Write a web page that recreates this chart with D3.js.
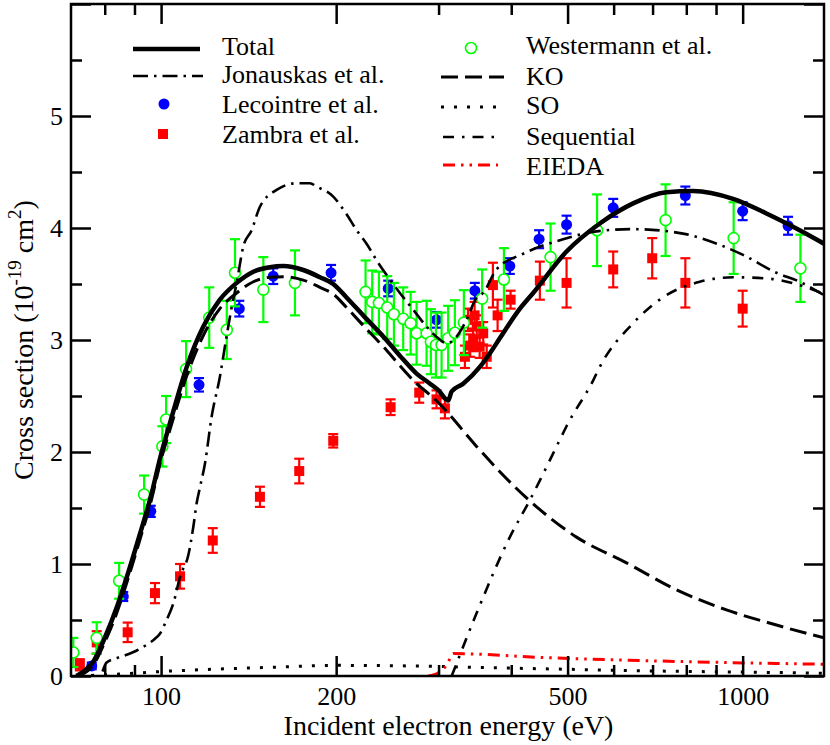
<!DOCTYPE html>
<html><head><meta charset="utf-8">
<script src="https://cdn.jsdelivr.net/npm/d3@7"></script>
<style>
html,body{margin:0;padding:0;background:#fff;}
svg text{font-family:"Liberation Serif","DejaVu Serif",serif;}
</style></head>
<body><svg id="c" width="830" height="745" font-family="Liberation Serif, DejaVu Serif, serif"></svg>
<script>
// ---------- data (energy eV, cross section 1e-19 cm^2) ----------
const totalCurve = [[71.5,0],[74,0.05],[76.5,0.13],[80,0.34],[84,0.62],[88,0.94],[92,1.27],[96,1.6],[100,1.98],[103.6,2.26],[110.7,2.76],[118.2,3.12],[126.2,3.36],[134.9,3.51],[144.1,3.61],[153.8,3.65],[162.2,3.66],[175.6,3.625],[187.6,3.56],[197.7,3.5],[208.4,3.38],[222.6,3.22],[244,3.0],[257.4,2.86],[275,2.7],[290,2.61],[300,2.55],[311.7,2.46],[315.9,2.54],[330.7,2.61],[353.3,2.76],[367.5,2.88],[382.3,3.015],[414,3.28],[436.3,3.42],[497.9,3.79],[568,4.04],[648.1,4.22],[739.6,4.32],[821.8,4.33],[962.7,4.26],[1098.7,4.13],[1253.4,3.98],[1380,3.86]];
const jonauskasCurve = [[79.3,0.04],[80.6,0.12],[84,0.16],[87.3,0.19],[91,0.23],[94.5,0.28],[97.5,0.33],[99.6,0.38],[102.2,0.5],[105,0.65],[108,0.9],[111.4,1.08],[113.6,1.33],[115.1,1.54],[116.6,1.68],[119,1.9],[122.2,2.32],[126.2,2.67],[129.3,3.0],[132,3.27],[134.9,3.51],[138.4,3.83],[143.1,3.98],[147.9,4.19],[158,4.34],[171.1,4.4],[180.3,4.4],[185.1,4.37],[197.7,4.28],[208,4.13],[216.9,3.98],[225.6,3.86],[234.8,3.71],[247.4,3.54],[257.4,3.42],[271.4,3.27],[286.1,3.12],[299.6,3.015],[309.7,2.97],[322.2,3.03],[335.2,3.18],[348,3.37],[357.9,3.42],[377.3,3.63],[419.5,3.77],[491.3,3.9],[560.7,3.97],[648,3.99],[789.6,3.95],[913,3.85],[1001.6,3.76],[1143,3.6],[1253.4,3.52],[1380,3.4]];
const koCurve = [[72,0],[76.5,0.1],[80,0.3],[84,0.57],[88,0.89],[92,1.22],[96,1.55],[100,1.93],[103.6,2.2],[110.7,2.68],[118.2,3.04],[126.2,3.28],[134.9,3.42],[144.1,3.52],[153.8,3.56],[162.2,3.565],[175.6,3.535],[187.6,3.47],[197.7,3.41],[208.4,3.29],[222.6,3.13],[244,2.91],[257.4,2.77],[275,2.61],[290,2.51],[300,2.44],[310,2.36],[348.7,2.05],[425,1.59],[518,1.24],[631.4,1.01],[769.6,0.77],[938,0.59],[1143.2,0.455],[1380,0.34]];
const soCurve = [[72,0],[80,0.01],[90,0.025],[100,0.04],[110,0.05],[130,0.065],[160,0.08],[200,0.095],[250,0.092],[300,0.085],[400,0.07],[500,0.06],[700,0.045],[1000,0.035],[1380,0.025]];
const sequentialCurve = [[316,0],[348.7,0.56],[397.8,1.24],[430.6,1.57],[485,2.11],[497.9,2.23],[553.4,2.64],[568,2.76],[648.1,3.15],[739.6,3.4],[843.9,3.52],[962.7,3.56],[1098.7,3.55],[1253.4,3.49],[1380,3.41]];
const eiedaCurve = [[288,0],[300,0.03],[310,0.1],[318,0.2],[454,0.165],[770,0.13],[1380,0.105]];

// points: [energy, value, error]
const lecointre = [[76,0.09,0.03],[86.1,0.71,0.04],[96,1.47,0.05],[116.2,2.6,0.06],[136.3,3.28,0.07],[155.9,3.57,0.07],[196,3.6,0.07],[245.8,3.46,0.07],[297.6,3.18,0.07],[346.3,3.44,0.07],[397.8,3.66,0.07],[446.7,3.9,0.08],[498,4.03,0.08],[599,4.18,0.08],[797,4.29,0.08],[1000,4.15,0.08],[1197,4.02,0.08]];
const zambra = [[72.5,0.1,0.05],[77.5,0.3,0.1],[87.6,0.39,0.087],[97.6,0.74,0.09],[107.8,0.89,0.11],[122.7,1.21,0.11],[147.9,1.6,0.09],[172.8,1.83,0.11],[197.7,2.1,0.06],[248.1,2.4,0.07],[277.9,2.53,0.09],[297.6,2.47,0.08],[307.6,2.39,0.09],[333,2.85,0.1],[337,3.18,0.1],[340,2.95,0.1],[344,3.0,0.1],[346,3.22,0.12],[349,3.12,0.1],[353,2.94,0.1],[358,3.06,0.1],[363,2.85,0.1],[372,3.49,0.2],[379,3.22,0.14],[399,3.36,0.08],[448,3.53,0.17],[498,3.51,0.22],[599,3.63,0.16],[699,3.73,0.18],[797,3.51,0.22],[1000,3.28,0.16]];
const westermann = [[70.65,0.21,0.13],[77.5,0.34,0.14],[84.7,0.85,0.16],[93.5,1.62,0.17],[100.5,2.05,0.18],[102,2.29,0.21],[110.4,2.74,0.25],[121,3.2,0.27],[129.7,3.09,0.26],[134,3.6,0.3],[149.9,3.45,0.29],[169.9,3.51,0.29],[224.7,3.43,0.28],[230.7,3.34,0.28],[236.9,3.33,0.28],[244.8,3.29,0.28],[251.4,3.23,0.28],[260.8,3.19,0.28],[268.6,3.15,0.28],[275,3.06,0.28],[286.1,3.06,0.29],[291,2.985,0.29],[296.9,2.955,0.29],[303.6,2.955,0.29],[311.6,3.015,0.29],[320,3.065,0.29],[331.6,3.155,0.29],[356.5,3.37,0.26],[388.6,3.54,0.28],[467.4,3.74,0.3],[562,3.98,0.32],[737,4.07,0.32],[965,3.91,0.32],[1257,3.64,0.3]];

const xMajor = [100,200,500,1000];
const xMinor = [80,90,300,400,600,700,800,900];
const yMajor = [0,1,2,3,4,5,6];
const yLabels = [0,1,2,3,4,5];
const yMinor = [0.5,1.5,2.5,3.5,4.5,5.5];

const legendLeft = ["Total","Jonauskas et al.","Lecointre et al.","Zambra et al."];
const legendRight = ["Westermann et al.","KO","SO","Sequential","EIEDA"];

// ---------- drawing ----------
const FONT = "Liberation Serif, DejaVu Serif, serif";
const svg = d3.select("#c");
const L=71,R=824,T=4,B=676;
const x = d3.scaleLog().domain([70,1380]).range([L,R]);
const y = d3.scaleLinear().domain([0,6]).range([B,T]);

svg.append("defs").append("clipPath").attr("id","clip")
  .append("rect").attr("x",L).attr("y",T).attr("width",R-L).attr("height",B-T);

const BLUE="#0000ff", RED="#ff0000", GREEN="#00ff00";
const styles = {
  total:{stroke:"#000",w:4.5,dash:null},
  jon:{stroke:"#000",w:2.6,dash:"15,6,2.5,6"},
  ko:{stroke:"#000",w:3,dash:"17,7"},
  so:{stroke:"#000",w:3,dash:"3,10"},
  seq:{stroke:"#000",w:2.6,dash:"11,8,2.5,8"},
  eieda:{stroke:RED,w:3,dash:"12,6,2.5,6,2.5,6"}
};

const g = svg.append("g").attr("clip-path","url(#clip)");

function errSet(data,color){
  const gg = g.append("g");
  gg.selectAll("line.v").data(data).enter().append("line")
    .attr("x1",d=>x(d[0])).attr("x2",d=>x(d[0]))
    .attr("y1",d=>y(d[1]-d[2])).attr("y2",d=>y(d[1]+d[2]))
    .attr("stroke",color).attr("stroke-width",2.2);
  [1,-1].forEach(s=>{
    gg.selectAll("line.c"+s).data(data).enter().append("line")
      .attr("x1",d=>x(d[0])-5).attr("x2",d=>x(d[0])+5)
      .attr("y1",d=>y(d[1]+s*d[2])).attr("y2",d=>y(d[1]+s*d[2]))
      .attr("stroke",color).attr("stroke-width",2.2);
  });
  return gg;
}
errSet(zambra,RED).selectAll("rect").data(zambra).enter().append("rect")
  .attr("x",d=>x(d[0])-5).attr("y",d=>y(d[1])-5).attr("width",10).attr("height",10).attr("fill",RED);
errSet(lecointre,BLUE).selectAll("circle").data(lecointre).enter().append("circle")
  .attr("cx",d=>x(d[0])).attr("cy",d=>y(d[1])).attr("r",5.5).attr("fill",BLUE);
errSet(westermann,GREEN).selectAll("circle").data(westermann).enter().append("circle")
  .attr("cx",d=>x(d[0])).attr("cy",d=>y(d[1])).attr("r",5.5).attr("fill","#fff")
  .attr("stroke",GREEN).attr("stroke-width",1.6);

const line = d3.line().x(d=>x(d[0])).y(d=>y(d[1])).curve(d3.curveMonotoneX);
function curve(data,st){
  g.append("path").datum(data).attr("d",line).attr("fill","none")
    .attr("stroke",st.stroke).attr("stroke-width",st.w)
    .attr("stroke-dasharray",st.dash).attr("stroke-linejoin","round");
}
curve(soCurve,styles.so);
curve(eiedaCurve,styles.eieda);
curve(sequentialCurve,styles.seq);
curve(koCurve,styles.ko);
curve(jonauskasCurve,styles.jon);
curve(totalCurve,styles.total);

// axes
function styleAxis(a){ a.attr("font-family",FONT).attr("font-size",26); a.select(".domain").remove(); a.selectAll("line").attr("stroke","#000").attr("stroke-width",2.5); a.selectAll("text").attr("font-family",FONT).attr("font-size",26).attr("fill","#000"); }
const ax1 = svg.append("g").attr("transform",`translate(0,${B})`).call(d3.axisBottom(x).tickValues(xMajor).tickSize(-20).tickPadding(29).tickFormat(d3.format("d")));
styleAxis(ax1); ax1.selectAll("text").attr("dy","0");
styleAxis(svg.append("g").attr("transform",`translate(0,${B})`).call(d3.axisBottom(x).tickValues(xMinor).tickSize(-11).tickFormat("")));
styleAxis(svg.append("g").attr("transform",`translate(0,${T})`).call(d3.axisTop(x).tickValues(xMajor).tickSize(-20).tickFormat("")));
styleAxis(svg.append("g").attr("transform",`translate(0,${T})`).call(d3.axisTop(x).tickValues(xMinor).tickSize(-11).tickFormat("")));
const ay = svg.append("g").attr("transform",`translate(${L},0)`).call(d3.axisLeft(y).tickValues(yMajor).tickSize(-20).tickPadding(8).tickFormat(d=>yLabels.includes(d)?d3.format("d")(d):""));
styleAxis(ay);
styleAxis(svg.append("g").attr("transform",`translate(${L},0)`).call(d3.axisLeft(y).tickValues(yMinor).tickSize(-11).tickFormat("")));
styleAxis(svg.append("g").attr("transform",`translate(${R},0)`).call(d3.axisRight(y).tickValues(yMajor).tickSize(-20).tickFormat("")));
styleAxis(svg.append("g").attr("transform",`translate(${R},0)`).call(d3.axisRight(y).tickValues(yMinor).tickSize(-11).tickFormat("")));

svg.append("rect").attr("x",L).attr("y",T).attr("width",R-L).attr("height",B-T)
  .attr("fill","none").attr("stroke","#000").attr("stroke-width",2.5);

// axis titles
svg.append("text").attr("x",(L+R)/2+1).attr("y",735).attr("text-anchor","middle")
  .attr("font-family",FONT).attr("font-size",28).text("Incident electron energy (eV)");
const yt = svg.append("text").attr("transform",`translate(33,${(T+B)/2}) rotate(-90)`)
  .attr("text-anchor","middle").attr("font-family",FONT).attr("font-size",28);
yt.append("tspan").text("Cross section (10");
yt.append("tspan").attr("dy",-12).attr("font-size",19).text("-19");
yt.append("tspan").attr("dy",12).text(" cm");
yt.append("tspan").attr("dy",-12).attr("font-size",19).text("2");
yt.append("tspan").attr("dy",12).text(")");

// legend
const lg = svg.append("g").attr("font-family",FONT);
const legFont = 26;
const leftBase = [55,83,113,143];
const rightBase = [54,85,114,145,175];
function legLine(x1,x2,yy,st){
  lg.append("line").attr("x1",x1).attr("x2",x2).attr("y1",yy).attr("y2",yy)
    .attr("stroke",st.stroke).attr("stroke-width",st.w).attr("stroke-dasharray",st.dash);
}
legLine(133,200,49,styles.total);
legLine(133,203,76,styles.jon);
lg.append("circle").attr("cx",164).attr("cy",104).attr("r",5.5).attr("fill",BLUE);
lg.append("rect").attr("x",158).attr("y",129).attr("width",10).attr("height",10).attr("fill",RED);
legendLeft.forEach((t,i)=>lg.append("text").attr("x",222).attr("y",leftBase[i]).attr("font-size",legFont).text(t));
lg.append("circle").attr("cx",471).attr("cy",48).attr("r",5.5).attr("fill","#fff").attr("stroke",GREEN).attr("stroke-width",1.6);
legLine(441,504,77,styles.ko);
legLine(441,502,107,styles.so);
legLine(443,500,137,styles.seq);
legLine(443,498,165,styles.eieda);
legendRight.forEach((t,i)=>lg.append("text").attr("x",526).attr("y",rightBase[i]).attr("font-size",legFont).text(t));
</script></body></html>
